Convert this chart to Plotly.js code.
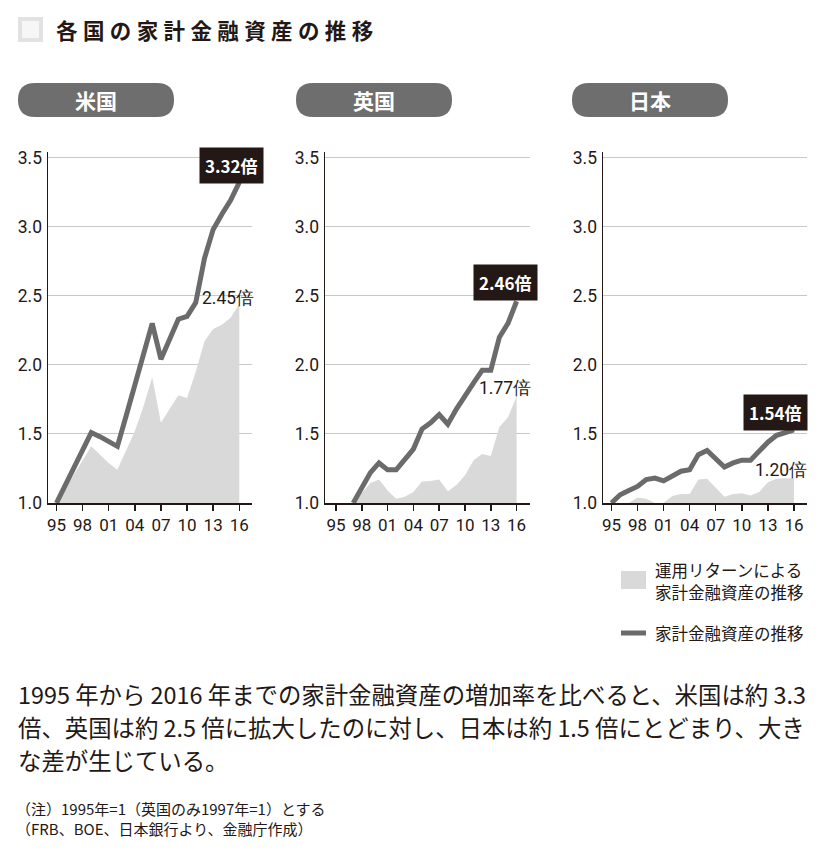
<!DOCTYPE html>
<html>
<head>
<meta charset="utf-8">
<script src="https://cdn.plot.ly/plotly-3.0.1.min.js"></script>
<style>
html,body{margin:0;padding:0;background:#fff;}
#chart{width:828px;height:852px;}
</style>
</head>
<body>
<div id="chart"></div>
<script>
// ---- data ----
const years = [1995,1996,1997,1998,1999,2000,2001,2002,2003,2004,2005,2006,2007,2008,2009,2010,2011,2012,2013,2014,2015,2016];
const ukYears = [1997,1998,1999,2000,2001,2002,2003,2004,2005,2006,2007,2008,2009,2010,2011,2012,2013,2014,2015,2016];

const usTotal  = [1.00,1.13,1.26,1.38,1.51,1.48,1.44,1.41,1.63,1.85,2.08,2.30,2.04,2.18,2.33,2.35,2.45,2.77,2.98,3.09,3.19,3.32];
const usReturn = [1.00,1.10,1.20,1.31,1.41,1.35,1.29,1.24,1.38,1.52,1.70,1.91,1.58,1.68,1.78,1.76,1.95,2.17,2.26,2.29,2.34,2.44];

const ukTotal  = [1.00,1.11,1.22,1.29,1.24,1.24,1.31,1.39,1.535,1.58,1.64,1.57,1.68,1.78,1.87,1.96,1.96,2.20,2.30,2.46];
const ukReturn = [1.00,1.07,1.145,1.17,1.09,1.03,1.045,1.08,1.155,1.16,1.17,1.085,1.13,1.20,1.31,1.355,1.34,1.55,1.62,1.77];

const jpTotal  = [1.00,1.06,1.09,1.12,1.17,1.18,1.16,1.20,1.23,1.24,1.35,1.38,1.32,1.26,1.29,1.31,1.31,1.38,1.44,1.49,1.51,1.53];
const jpReturn = [1.00,1.00,1.00,1.04,1.03,1.00,1.00,1.05,1.065,1.065,1.17,1.175,1.11,1.045,1.065,1.07,1.055,1.08,1.15,1.175,1.18,1.18];

const countries = ['米国','英国','日本'];
const totalLabels = ['3.32倍','2.46倍','1.54倍'];
const returnLabels = ['2.45倍','1.77倍','1.20倍'];

const xTickVals = [1995,1998,2001,2004,2007,2010,2013,2016];
const xTickText = ['95','98','01','04','07','10','13','16'];
const yTickVals = [1.0,1.5,2.0,2.5,3.0,3.5];
const yTickText = ['1.0','1.5','2.0','2.5','3.0','3.5'];

const chartTitle = '各国の家計金融資産の推移';
const legendReturn = ['運用リターンによる','家計金融資産の推移'];
const legendTotal = '家計金融資産の推移';
const bodyLines = [
  '1995 年から 2016 年までの家計金融資産の増加率を比べると、米国は約 3.3',
  '倍、英国は約 2.5 倍に拡大したのに対し、日本は約 1.5 倍にとどまり、大き',
  'な差が生じている。'
];
const notes = [
  '（注）1995年=1（英国のみ1997年=1）とする',
  '（FRB、BOE、日本銀行より、金融庁作成）'
];

// ---- styling ----
const W = 828, H = 852;
const px = x => x / W;
const py = y => 1 - y / H;
const INK = '#231815';
const LINE = '#6b6b6b';
const AREA = '#d9d9d9';
const PILL = '#6e6e6e';
const NUMFONT = 'Roboto, sans-serif';
const JPFONT = '"Noto Sans CJK JP", "Noto Sans", sans-serif';

const panels = [
  {x: years, total: usTotal, ret: usReturn, dom: [48, 252], range: [1994.03, 2017.46], pill: [18, 174]},
  {x: ukYears, total: ukTotal, ret: ukReturn, dom: [325, 530], range: [1993.72, 2017.56], pill: [296, 452]},
  {x: years, total: jpTotal, ret: jpReturn, dom: [603, 807], range: [1994.03, 2017.5], pill: [572, 728]}
];

const data = [];
const layout = {
  width: W, height: H,
  margin: {l: 0, r: 0, t: 0, b: 0},
  paper_bgcolor: '#fff', plot_bgcolor: 'rgba(0,0,0,0)',
  showlegend: false,
  shapes: [], annotations: []
};

panels.forEach((p, i) => {
  const xa = i === 0 ? 'x' : 'x' + (i + 1);
  const ya = i === 0 ? 'y' : 'y' + (i + 1);
  data.push({
    x: p.x, y: p.ret, xaxis: xa, yaxis: ya, type: 'scatter', mode: 'lines',
    fill: 'tozeroy', fillcolor: AREA, line: {width: 0, color: AREA}, hoverinfo: 'skip'
  });
  data.push({
    x: p.x, y: p.total, xaxis: xa, yaxis: ya, type: 'scatter', mode: 'lines',
    line: {width: 5, color: LINE}, hoverinfo: 'skip'
  });
  const xk = i === 0 ? 'xaxis' : 'xaxis' + (i + 1);
  const yk = i === 0 ? 'yaxis' : 'yaxis' + (i + 1);
  layout[xk] = {
    domain: [px(p.dom[0]), px(p.dom[1])], range: p.range, anchor: ya,
    tickmode: 'array', tickvals: xTickVals, ticktext: xTickText,
    ticks: 'outside', ticklen: 6, tickwidth: 1.5, tickcolor: INK,
    showline: true, linecolor: INK, linewidth: 1.5,
    showgrid: false, zeroline: false, fixedrange: true,
    tickfont: {family: NUMFONT, size: 17, color: INK}
  };
  layout[yk] = {
    domain: [py(503), py(152)], range: [1.0, 3.54], anchor: xa,
    tickmode: 'array', tickvals: yTickVals, ticktext: yTickText,
    ticks: '', showline: true, linecolor: INK, linewidth: 1.5,
    showgrid: true, gridcolor: '#c8c8c8', gridwidth: 1, zeroline: false, fixedrange: true,
    ticklabelstandoff: 1,
    tickfont: {family: NUMFONT, size: 17.5, color: INK}
  };
  // pill header
  layout.shapes.push({
    type: 'path', xref: 'paper', yref: 'paper', layer: 'above',
    path: (() => {
      const x0 = p.pill[0], x1 = p.pill[1], y0 = 83, y1 = 117, r = 17;
      const P = (x, y) => px(x) + ',' + py(y);
      return 'M' + P(x0 + r, y0) + ' L' + P(x1 - r, y0) +
        ' Q' + P(x1, y0) + ' ' + P(x1, (y0 + y1) / 2) +
        ' Q' + P(x1, y1) + ' ' + P(x1 - r, y1) +
        ' L' + P(x0 + r, y1) +
        ' Q' + P(x0, y1) + ' ' + P(x0, (y0 + y1) / 2) +
        ' Q' + P(x0, y0) + ' ' + P(x0 + r, y0) + ' Z';
    })(),
    fillcolor: PILL, line: {width: 0}
  });
  layout.annotations.push({
    xref: 'paper', yref: 'paper', x: px((p.pill[0] + p.pill[1]) / 2), y: py(100),
    xanchor: 'center', yanchor: 'middle', showarrow: false,
    text: '<b>' + countries[i] + '</b>',
    font: {family: JPFONT, size: 21, color: '#fff'}
  });
});

// value labels
const boxPos = [[231, 165.5], [505, 282.5], [775, 412]];
const retPos = [[228, 298], [505, 388], [781, 470]];
boxPos.forEach((b, i) => {
  layout.annotations.push({
    xref: 'paper', yref: 'paper', x: px(b[0]), y: py(b[1]),
    xanchor: 'center', yanchor: 'middle', showarrow: false,
    text: '<b>' + totalLabels[i] + '</b>', bgcolor: INK, borderpad: 5,
    font: {family: '"Noto Sans CJK JP", Roboto, sans-serif', size: 17, color: '#fff'}
  });
  layout.annotations.push({
    xref: 'paper', yref: 'paper', x: px(retPos[i][0]), y: py(retPos[i][1]),
    xanchor: 'center', yanchor: 'middle', showarrow: false,
    text: returnLabels[i],
    font: {family: NUMFONT, size: 17.5, color: INK}
  });
});

// title
layout.shapes.push({
  type: 'rect', xref: 'paper', yref: 'paper',
  x0: px(20), x1: px(41), y0: py(40), y1: py(19),
  fillcolor: '#f6f6f6', line: {color: '#e2e2e2', width: 4}
});
layout.annotations.push({
  xref: 'paper', yref: 'paper', x: px(54), y: py(30),
  xanchor: 'left', yanchor: 'middle', showarrow: false,
  text: '<b>' + chartTitle.split('').join('\u2005') + '</b>',
  font: {family: JPFONT, size: 21.5, color: INK}
});

// legend
layout.shapes.push({
  type: 'rect', xref: 'paper', yref: 'paper',
  x0: px(621), x1: px(646), y0: py(589), y1: py(571),
  fillcolor: AREA, line: {width: 0}
});
layout.shapes.push({
  type: 'rect', xref: 'paper', yref: 'paper',
  x0: px(621), x1: px(646), y0: py(635.5), y1: py(630.5),
  fillcolor: LINE, line: {width: 0}
});
legendReturn.forEach((t, k) => {
  layout.annotations.push({
    xref: 'paper', yref: 'paper', x: px(653), y: py(570 + k * 22),
    xanchor: 'left', yanchor: 'middle', showarrow: false, text: t,
    font: {family: JPFONT, size: 16.5, color: INK}
  });
});
layout.annotations.push({
  xref: 'paper', yref: 'paper', x: px(653), y: py(633),
  xanchor: 'left', yanchor: 'middle', showarrow: false, text: legendTotal,
  font: {family: JPFONT, size: 16.5, color: INK}
});

// body text
bodyLines.forEach((t, k) => {
  layout.annotations.push({
    xref: 'paper', yref: 'paper', x: px(16), y: py(694 + k * 33),
    xanchor: 'left', yanchor: 'middle', showarrow: false, text: t,
    font: {family: JPFONT, size: 23.4, color: INK}
  });
});
notes.forEach((t, k) => {
  layout.annotations.push({
    xref: 'paper', yref: 'paper', x: px(14), y: py(808.5 + k * 20),
    xanchor: 'left', yanchor: 'middle', showarrow: false, text: t,
    font: {family: JPFONT, size: 15, color: INK}
  });
});

Plotly.newPlot('chart', data, layout, {staticPlot: true, displayModeBar: false});
</script>
</body>
</html>
